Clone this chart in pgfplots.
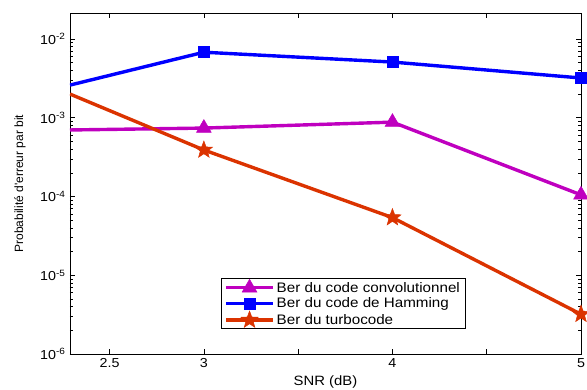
\documentclass[border=0pt]{standalone}
\usepackage{fontspec}
\setmainfont{Liberation Sans}[FakeStretch=1.1]
\newfontfamily\ylfont{Liberation Sans}
\usepackage{pgfplots}
\pgfplotsset{compat=1.18}
\definecolor{cmag}{rgb}{0.75,0,0.75}
\definecolor{cblue}{rgb}{0,0,1}
\definecolor{cred}{rgb}{0.86,0.2,0}
\pgfdeclareplotmark{pentagram}{%
  \pgfpathmoveto{\pgfqpointpolar{90}{\pgfplotmarksize}}%
  \pgfpathlineto{\pgfqpointpolar{126}{0.42\pgfplotmarksize}}%
  \pgfpathlineto{\pgfqpointpolar{162}{\pgfplotmarksize}}%
  \pgfpathlineto{\pgfqpointpolar{198}{0.42\pgfplotmarksize}}%
  \pgfpathlineto{\pgfqpointpolar{234}{\pgfplotmarksize}}%
  \pgfpathlineto{\pgfqpointpolar{270}{0.42\pgfplotmarksize}}%
  \pgfpathlineto{\pgfqpointpolar{306}{\pgfplotmarksize}}%
  \pgfpathlineto{\pgfqpointpolar{342}{0.42\pgfplotmarksize}}%
  \pgfpathlineto{\pgfqpointpolar{18}{\pgfplotmarksize}}%
  \pgfpathlineto{\pgfqpointpolar{54}{0.42\pgfplotmarksize}}%
  \pgfpathclose
  \pgfusepathqfillstroke
}
\begin{document}
\begin{tikzpicture}
\begin{axis}[
  scale only axis,
  width=511pt, height=341pt,
  xmin=2.29, xmax=5,
  ymode=log, ymin=1e-6, ymax=0.0214,
  xtick={2.5,3,3.5,4,4.5,5},
  xticklabels={2.5,3,,4,,5},
  ytick={1e-6,1e-5,1e-4,1e-3,1e-2},
  yticklabels={10\textsuperscript{-6},10\textsuperscript{-5},10\textsuperscript{-4},10\textsuperscript{-3},10\textsuperscript{-2}},
  tick align=inside,
  tick pos=both,
  major tick length=5pt,
  minor tick length=3pt,
  axis line style={line width=0.9pt},
  every tick/.style={black, line width=0.6pt},
  tick label style={font=\fontsize{13}{15}\selectfont},
  xticklabel style={yshift=-1pt},
  yticklabel style={xshift=-1pt},
  xlabel={SNR (dB)},
  ylabel={Probabilité d'erreur par bit},
  every axis x label/.style={at={(axis description cs:0.5,-0.082)}, anchor=center, font=\fontsize{13.5}{15}\selectfont},
  every axis y label/.style={at={(axis description cs:-0.098,0.5)}, rotate=90, anchor=center, font=\ylfont\fontsize{12}{14}\selectfont},
  legend style={at={(0.2955,0.073)}, anchor=south west, draw=black, line width=0.7pt,
    font=\fontsize{13.8}{16}\selectfont, row sep=0pt, inner xsep=3pt, inner ysep=1pt},
  legend cell align=left,
  legend image code/.code={
    \draw[#1, mark=none] (0pt,0pt) -- (47pt,0pt);
    \draw[#1, mark indices={1}] plot coordinates {(23.5pt,0pt)};
  },
]
\addplot[color=cmag, line width=3.4pt, mark=triangle*, mark size=8.5pt, mark options={solid, line width=0.5pt}, mark indices={2,3,4}]
  coordinates {(2.29,7.0e-4) (3,7.4e-4) (4,8.8e-4) (5,1.05e-4)};
\addlegendentry{Ber du code convolutionnel}
\addplot[color=cblue, line width=3.4pt, mark=square*, mark size=5.5pt, mark options={solid, line width=0.5pt}, mark indices={2,3,4}]
  coordinates {(2.29,2.6e-3) (3,6.8e-3) (4,5.1e-3) (5,3.2e-3)};
\addlegendentry{Ber du code de Hamming}
\addplot[color=cred, line width=3.4pt, mark=pentagram, mark size=9pt, mark options={solid, line width=0.5pt}, mark indices={2,3,4}]
  coordinates {(2.29,2.0e-3) (3,3.9e-4) (4,5.4e-5) (5,3.2e-6)};
\addlegendentry{Ber du turbocode}
\end{axis}
\pgfresetboundingbox
\path[use as bounding box] ([shift={(-70pt,-35pt)}]current axis.south west) rectangle ([shift={(6pt,13pt)}]current axis.north east);
\end{tikzpicture}
\end{document}
